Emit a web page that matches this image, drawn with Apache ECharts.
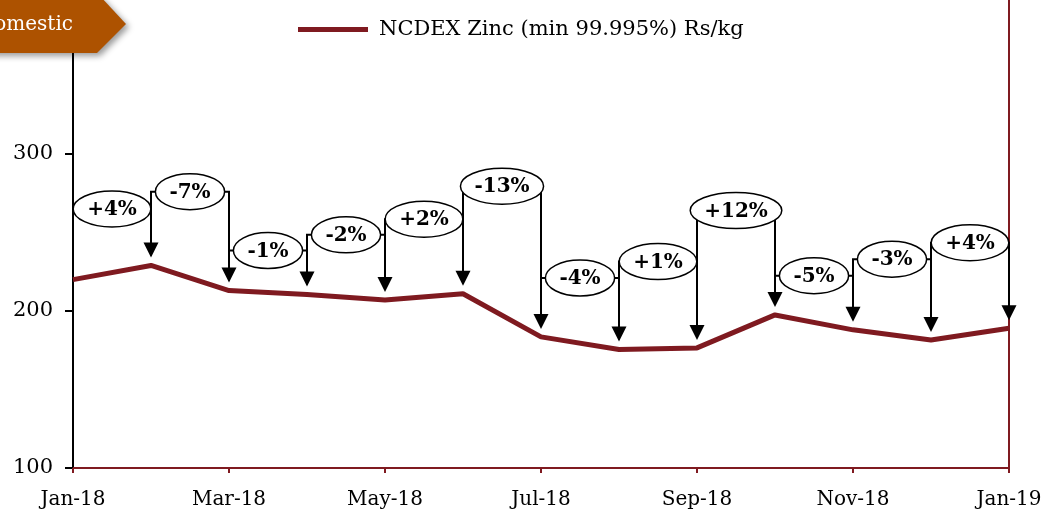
<!DOCTYPE html>
<html>
<head>
<meta charset="utf-8">
<script src="https://cdn.jsdelivr.net/npm/echarts@6/dist/echarts.min.js"></script>
<style>
html,body{margin:0;padding:0;background:#fff;}
#chart{width:1042px;height:514px;}
</style>
</head>
<body>
<div id="chart"></div>
<script>
// ---- data ----
var months = ['Jan-18','Feb-18','Mar-18','Apr-18','May-18','Jun-18','Jul-18','Aug-18','Sep-18','Oct-18','Nov-18','Dec-18','Jan-19'];
var zincPrice = [220, 229, 213, 210.5, 207, 211, 183.5, 175.5, 176.5, 197.5, 188, 181.5, 189];
var changeLabels = ['+4%','-7%','-1%','-2%','+2%','-13%','-4%','+1%','+12%','-5%','-3%','+4%'];
var bracketLevels = [265, 276, 238.5, 248.5, 258.5, 279.5, 221, 231.5, 264, 222.5, 233, 243.5];
var yTicks = {min: 100, max: 400, interval: 100};
var seriesName = 'NCDEX Zinc (min 99.995%) Rs/kg';

var SERIF = "'DejaVu Serif', 'Liberation Serif', serif";
var LINE_RED = '#7f1a20';
var LABEL_FONT = 'bold 20px ' + SERIF;

var bracketData = [];
for (var i = 0; i < changeLabels.length; i++) {
  bracketData.push([i, bracketLevels[i], zincPrice[i], zincPrice[i + 1], changeLabels[i]]);
}

var measureCtx = document.createElement('canvas').getContext('2d');
function textW(t) {
  measureCtx.font = LABEL_FONT;
  return measureCtx.measureText(t).width;
}

function renderLines(params, api) {
  var i = api.value(0);
  var p0 = api.coord([i, api.value(2)]);
  var p1 = api.coord([i + 1, api.value(3)]);
  var L = api.coord([i, api.value(1)])[1];
  var tipY = p1[1] - 8;
  var headH = 15, headW = 7.5;
  return {
    type: 'group',
    children: [
      {
        type: 'polyline',
        shape: { points: [[p0[0], p0[1] - 10], [p0[0], L], [p1[0], L], [p1[0], tipY - headH + 1]] },
        style: { stroke: '#000', lineWidth: 2, fill: null }
      },
      {
        type: 'polygon',
        shape: { points: [[p1[0] - headW, tipY - headH], [p1[0] + headW, tipY - headH], [p1[0], tipY]] },
        style: { fill: '#000' }
      }
    ]
  };
}

function renderLabels(params, api) {
  var i = api.value(0);
  var x0 = api.coord([i, api.value(2)])[0];
  var x1 = api.coord([i + 1, api.value(3)])[0];
  var L = api.coord([i, api.value(1)])[1];
  var txt = changeLabels[i];
  var w = textW(txt) + 28;
  var cx = (x0 + x1) / 2;
  return {
    type: 'group',
    children: [
      {
        type: 'ellipse',
        shape: { cx: cx, cy: L, rx: w / 2, ry: 18 },
        style: { fill: '#fff', stroke: '#000', lineWidth: 1.5 }
      },
      {
        type: 'text',
        style: {
          x: cx, y: L + 1, text: txt, align: 'center', verticalAlign: 'middle',
          font: LABEL_FONT, fill: '#000'
        }
      }
    ]
  };
}

var chart = echarts.init(document.getElementById('chart'), null, { renderer: 'canvas' });
chart.setOption({
  animation: false,
  backgroundColor: '#fff',
  grid: { left: 73, right: 33, top: -3, bottom: 46, containLabel: false, outerBoundsMode: 'none' },
  legend: {
    data: [{ name: seriesName, icon: 'rect' }],
    left: 293, top: 14,
    itemWidth: 70, itemHeight: 5, itemGap: 10,
    textStyle: { fontFamily: SERIF, fontSize: 21, color: '#000', padding: [0, 0, 0, 6] }
  },
  xAxis: {
    type: 'category',
    data: months,
    boundaryGap: false,
    axisLine: { lineStyle: { color: LINE_RED, width: 2 } },
    axisTick: { show: true, length: 5, interval: 1, lineStyle: { color: LINE_RED, width: 2 } },
    axisLabel: { interval: 1, margin: 22, fontFamily: SERIF, fontSize: 20, color: '#000', hideOverlap: false },
    splitLine: { show: false }
  },
  yAxis: [
    {
      type: 'value',
      min: yTicks.min, max: yTicks.max, interval: yTicks.interval,
      axisLine: { show: true, lineStyle: { color: '#000', width: 2 } },
      axisTick: { show: true, length: 8, lineStyle: { color: '#000', width: 2 } },
      axisLabel: { margin: 20, showMaxLabel: false, fontFamily: SERIF, fontSize: 21, color: '#000' },
      splitLine: { show: false }
    },
    {
      type: 'value', position: 'right',
      min: yTicks.min, max: yTicks.max, interval: yTicks.interval,
      axisLine: { show: true, lineStyle: { color: LINE_RED, width: 2 } },
      axisTick: { show: false }, axisLabel: { show: false }, splitLine: { show: false }
    }
  ],
  series: [
    {
      name: seriesName,
      type: 'line',
      data: zincPrice,
      symbol: 'none',
      lineStyle: { color: LINE_RED, width: 5 },
      itemStyle: { color: LINE_RED },
      z: 2
    },
    {
      type: 'custom',
      data: bracketData,
      renderItem: renderLines,
      silent: true,
      z: 3
    },
    {
      type: 'custom',
      data: bracketData,
      renderItem: renderLabels,
      silent: true,
      z: 4
    }
  ],
  graphic: [
    {
      type: 'polygon',
      shape: { points: [[-20, -4], [100, -4], [126, 24], [97, 53], [-20, 53]] },
      style: { fill: '#ad5200', shadowBlur: 6, shadowOffsetX: 3, shadowOffsetY: 3, shadowColor: 'rgba(0,0,0,0.4)' },
      z: 100
    },
    {
      type: 'text',
      style: { x: 73, y: 25, text: 'Domestic', align: 'right', verticalAlign: 'middle', font: '20px ' + SERIF, fill: '#fff' },
      z: 101
    }
  ]
});
</script>
</body>
</html>
